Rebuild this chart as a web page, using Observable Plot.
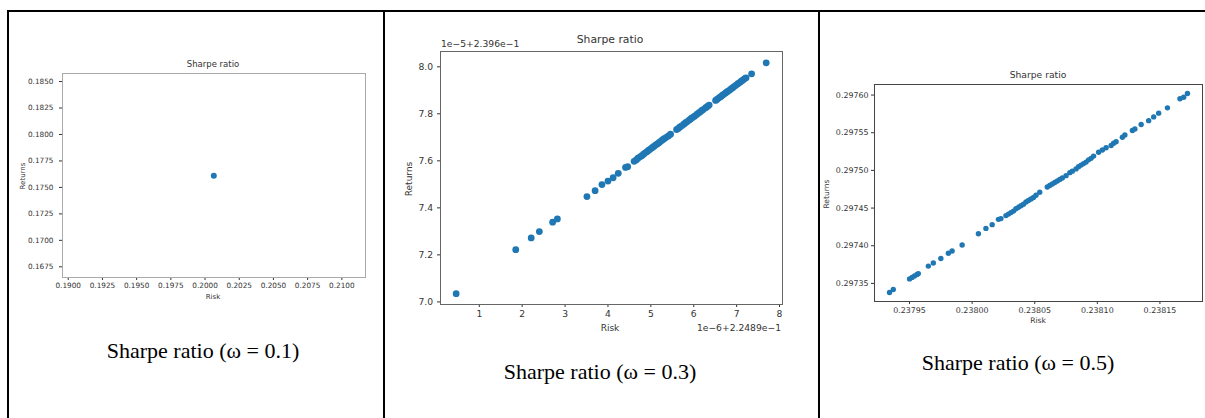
<!DOCTYPE html>
<html>
<head>
<meta charset="utf-8">
<script src="https://cdn.jsdelivr.net/npm/d3@7"></script>
<script src="https://cdn.jsdelivr.net/npm/@observablehq/plot@0.6"></script>
<style>
  html, body { margin: 0; padding: 0; background: #fff; }
  #page { position: relative; width: 1205px; height: 418px; overflow: hidden; background: #fff; }
  .t { position: absolute; white-space: nowrap; line-height: 1; }
  .line { position: absolute; background: #000; }
</style>
</head>
<body>
<div id="page"></div>
<script>
// ---------- Data ----------
// Panel 1 (omega = 0.1): a single portfolio
const risk1 = [0.20064];
const ret1 = [0.17609];
const xTicks1 = [0.1900, 0.1925, 0.1950, 0.1975, 0.2000, 0.2025, 0.2050, 0.2075, 0.2100];
const yTicks1 = [0.1675, 0.1700, 0.1725, 0.1750, 0.1775, 0.1800, 0.1825, 0.1850];

// Panel 2 (omega = 0.3): values in offset units
// risk = 0.22489 + x * 1e-6 ; returns = 0.2396 + y * 1e-5
const risk2 = [0.46, 1.85, 2.21, 2.40, 2.71, 2.82, 3.51, 3.70, 3.86, 4.00, 4.12, 4.24, 4.41, 4.46,
  4.61, 4.66, 4.70, 4.75, 4.79, 4.83, 4.87, 4.91, 4.95, 4.99, 5.03, 5.07, 5.11, 5.15, 5.19, 5.23, 5.27, 5.31, 5.36, 5.41, 5.46,
  5.60, 5.64, 5.68, 5.72, 5.77, 5.81, 5.85, 5.90, 5.94, 5.98, 6.02, 6.07, 6.11, 6.15, 6.19, 6.23, 6.28, 6.32, 6.36,
  6.51, 6.55, 6.59, 6.63, 6.67, 6.71, 6.75, 6.79, 6.83, 6.87, 6.91, 6.95, 6.99, 7.03, 7.07, 7.11, 7.15, 7.19, 7.22,
  7.35, 7.69];
const ret2 = [7.035, 7.222, 7.272, 7.299, 7.339, 7.353, 7.448, 7.473, 7.499, 7.514, 7.528, 7.547, 7.572, 7.575,
  7.598, 7.604, 7.611, 7.617, 7.622, 7.628, 7.634, 7.639, 7.645, 7.650, 7.656, 7.661, 7.667, 7.672, 7.677, 7.683, 7.689, 7.694, 7.700, 7.706, 7.713,
  7.733, 7.738, 7.744, 7.749, 7.756, 7.762, 7.767, 7.774, 7.780, 7.785, 7.790, 7.797, 7.803, 7.808, 7.814, 7.819, 7.826, 7.831, 7.837,
  7.857, 7.862, 7.868, 7.873, 7.879, 7.884, 7.890, 7.895, 7.900, 7.906, 7.911, 7.917, 7.922, 7.928, 7.933, 7.939, 7.944, 7.950, 7.953,
  7.970, 8.017];
const xTicks2 = [1, 2, 3, 4, 5, 6, 7, 8];
const yTicks2 = [7.0, 7.2, 7.4, 7.6, 7.8, 8.0];

// Panel 3 (omega = 0.5)
const risk3 = [0.237934, 0.237937, 0.237950, 0.237952, 0.237954, 0.237956, 0.237957, 0.237965, 0.237969, 0.237975,
  0.237981, 0.237984, 0.237992, 0.238005, 0.238011, 0.238016, 0.238021, 0.238023,
  0.238027, 0.238029, 0.238031, 0.238033, 0.238035, 0.238037, 0.238039, 0.238041, 0.238043, 0.238045, 0.238047, 0.238049, 0.238051,
  0.238054,
  0.238060, 0.238062, 0.238064, 0.238066, 0.238068, 0.238070, 0.238072, 0.238075, 0.238078, 0.238080, 0.238083, 0.238085,
  0.238087, 0.238089, 0.238091, 0.238093, 0.238095, 0.238097,
  0.238101, 0.238104, 0.238107, 0.238111, 0.238113, 0.238115, 0.238120, 0.238122, 0.238128, 0.238130, 0.238135, 0.238141,
  0.238145, 0.238149, 0.238156, 0.238166, 0.238169, 0.238172];
const ret3 = [0.297338, 0.297342, 0.297356, 0.297358, 0.297360, 0.297362, 0.297363, 0.297373, 0.297377, 0.297383,
  0.297390, 0.297393, 0.297401, 0.297416, 0.297423, 0.297428, 0.297435, 0.297436,
  0.297440, 0.297442, 0.297444, 0.297446, 0.297449, 0.297451, 0.297453, 0.297455, 0.297458, 0.297460, 0.297462, 0.297464, 0.297467,
  0.297471,
  0.297478, 0.297480, 0.297482, 0.297484, 0.297486, 0.297488, 0.297490, 0.297493, 0.297497, 0.297499, 0.297502, 0.297505,
  0.297507, 0.297509, 0.297511, 0.297514, 0.297516, 0.297519,
  0.297524, 0.297527, 0.297530, 0.297533, 0.297536, 0.297538, 0.297544, 0.297547, 0.297553, 0.297555, 0.297561, 0.297566,
  0.297571, 0.297576, 0.297583, 0.297595, 0.297597, 0.297602];
const xTicks3 = [0.23795, 0.23800, 0.23805, 0.23810, 0.23815];
const yTicks3 = [0.29735, 0.29740, 0.29745, 0.29750, 0.29755, 0.29760];

const panelTitle = "Sharpe ratio";
const captions = ["Sharpe ratio (ω = 0.1)", "Sharpe ratio (ω = 0.3)", "Sharpe ratio (ω = 0.5)"];
const xLabel = "Risk", yLabel = "Returns";
const offsetY2 = "1e\u22125+2.396e\u22121", offsetX2 = "1e\u22126+2.2489e\u22121";

// ---------- Layout helpers ----------
const page = document.getElementById("page");
const MPL = "'DejaVu Sans', sans-serif";
const SERIF = "'Liberation Serif', 'Times New Roman', serif";
function text(str, x, y, size, {anchor = "middle", rotate = false, family = MPL, color = "#333"} = {}) {
  const d = document.createElement("div");
  d.className = "t";
  d.textContent = str;
  d.style.left = x + "px";
  d.style.top = y + "px";
  d.style.fontSize = size + "px";
  d.style.fontFamily = family;
  d.style.color = color;
  const tx = anchor === "start" ? "0" : anchor === "end" ? "-100%" : "-50%";
  d.style.transform = `translate(${tx},-50%)` + (rotate ? " rotate(-90deg)" : "");
  page.appendChild(d);
}
function line(x, y, w, h) {
  const d = document.createElement("div");
  d.className = "line";
  Object.assign(d.style, {left: x + "px", top: y + "px", width: w + "px", height: h + "px"});
  page.appendChild(d);
}
function panel(p) {
  const ml = 60, mr = 12, mt = 12, mb = 30;
  const data = p.xs.map((x, i) => ({risk: x, ret: p.ys[i]}));
  const chart = Plot.plot({
    width: (p.fx1 - p.fx0) + ml + mr,
    height: (p.fy1 - p.fy0) + mt + mb,
    marginLeft: ml, marginRight: mr, marginTop: mt, marginBottom: mb,
    x: {domain: p.xDomain},
    y: {domain: p.yDomain},
    style: {fontFamily: MPL, fontSize: p.tickFont + "px", color: "#333", background: "transparent", overflow: "visible"},
    marks: [
      Plot.axisX({ticks: p.xTicks, tickFormat: p.xFmt, tickSize: 3, tickPadding: p.xPad, label: null, fontSize: p.tickFont}),
      Plot.axisY({ticks: p.yTicks, tickFormat: p.yFmt, tickSize: 3, tickPadding: p.yPad, label: null, fontSize: p.tickFont}),
      Plot.dot(data, {x: "risk", y: "ret", r: p.r, fill: "#1f77b4", stroke: "none"}),
      Plot.frame({stroke: p.frameColor, strokeWidth: 1})
    ]
  });
  chart.style.position = "absolute";
  chart.style.left = (p.fx0 - ml) + "px";
  chart.style.top = (p.fy0 - mt) + "px";
  page.appendChild(chart);
}

// ---------- Table borders ----------
line(7, 10, 1200, 2);
line(7, 10, 2, 410);
line(383, 10, 2, 410);
line(818, 10, 2, 410);

// ---------- Panel 1 ----------
panel({fx0: 62, fx1: 365, fy0: 73, fy1: 277,
  xDomain: [0.18958, 0.21173], yDomain: [0.16649, 0.18576],
  xTicks: xTicks1, yTicks: yTicks1, xFmt: d3.format(".4f"), yFmt: d3.format(".4f"),
  xs: risk1, ys: ret1, r: 3, tickFont: 7.3, frameColor: "#aaa", xPad: 2, yPad: 6});
text(panelTitle, 213, 64, 8.5);
text(xLabel, 213, 297, 7);
text(yLabel, 23, 176, 7, {rotate: true});
text(captions[0], 203, 351, 22, {family: SERIF, color: "#000"});

// ---------- Panel 2 ----------
panel({fx0: 440, fx1: 782, fy0: 51, fy1: 304,
  xDomain: [0.095, 8.07], yDomain: [6.989, 8.065],
  xTicks: xTicks2, yTicks: yTicks2, xFmt: d3.format("d"), yFmt: d3.format(".1f"),
  xs: risk2, ys: ret2, r: 3.4, tickFont: 9.2, frameColor: "#666", xPad: 3, yPad: 4.5});
text(panelTitle, 610, 40, 10.8);
text(offsetY2, 441, 44, 9.2, {anchor: "start"});
text(xLabel, 610, 328, 9);
text(offsetX2, 781, 328, 9.2, {anchor: "end"});
text(yLabel, 409, 179, 9, {rotate: true});
text(captions[1], 600, 372, 22, {family: SERIF, color: "#000"});

// ---------- Panel 3 ----------
panel({fx0: 874, fx1: 1202, fy0: 84, fy1: 301,
  xDomain: [0.237922, 0.238184], yDomain: [0.297326, 0.297614],
  xTicks: xTicks3, yTicks: yTicks3, xFmt: d3.format(".5f"), yFmt: d3.format(".5f"),
  xs: risk3, ys: ret3, r: 2.7, tickFont: 7.9, frameColor: "#444", xPad: 2.5, yPad: 3});
text(panelTitle, 1038, 75, 9.2);
text(xLabel, 1038, 321, 7.6);
text(yLabel, 827, 194, 7.6, {rotate: true});
text(captions[2], 1018, 363, 22, {family: SERIF, color: "#000"});
</script>
</body>
</html>
